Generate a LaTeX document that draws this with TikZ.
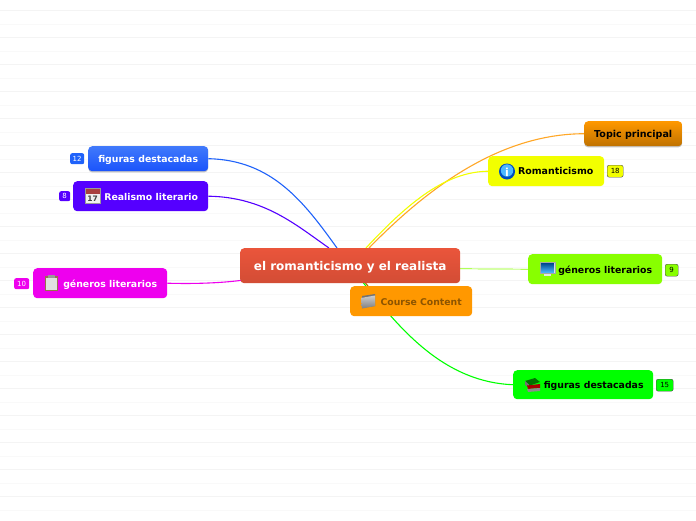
\documentclass[tikz,border=0pt]{standalone}
\usepackage{fontspec}
\setmainfont{DejaVu Sans}
\usetikzlibrary{calc,shadows}
\pgfdeclarelayer{under}
\pgfsetlayers{under,main}
\definecolor{cred}{HTML}{EA553B}
\definecolor{cblue}{HTML}{1F62FA}
\definecolor{cviolet}{HTML}{5500FF}
\definecolor{cmag}{HTML}{EE00EE}
\definecolor{corange}{HTML}{FF9800}
\definecolor{cyel}{HTML}{F2FF00}
\definecolor{clime}{HTML}{88FF00}
\definecolor{cgreen}{HTML}{00FF00}
\newcommand{\lowered}[2]{\raisebox{-#1}[\height][\depth]{#2}}
\tikzset{
 x=1pt,y=-1pt,
 topic/.style={rounded corners=4pt,inner sep=0pt,font=\bfseries\fontsize{9.35}{11}\selectfont,anchor=north west},
 badge/.style={rounded corners=2pt,inner sep=0pt,font=\fontsize{7}{8}\selectfont,anchor=north west},
 link/.style={line width=1.1pt},
 grid a/.style={draw=black!4.5,line width=0.8pt},
 grid b/.style={draw=black!2.5,line width=0.8pt},
 soft/.style={drop shadow={shadow xshift=0pt,shadow yshift=-1.2pt,opacity=.45}},
}
\newcommand{\tnode}[8]{% name, x, y, w, h, fill opts, text colour, text
 \node[topic,#6,text=#7,minimum width=#4pt,minimum height=#5pt,text depth=0pt] (#1) at (#2,#3) {#8};}
\begin{document}
\begin{tikzpicture}
\useasboundingbox (0,0) rectangle (696,520);

\tnode{figL}{88}{146}{120}{25}{top color=cblue!85!white,bottom color=cblue!85!blue,soft}{white}{figuras destacadas}
\tnode{reaL}{73}{181}{135}{30}{fill=cviolet}{white}{\hspace*{21pt}\lowered{.4pt}{Realismo literario}}
\tnode{genL}{33}{268}{134}{30}{fill=cmag}{white}{\hspace*{20pt}\lowered{.7pt}{géneros literarios}}
\node[topic,top color=cred,bottom color=cred!90!black,text=white,minimum width=220pt,minimum height=35pt,font=\bfseries\fontsize{12}{14}\selectfont] (cen) at (240,248) {\lowered{1.6pt}{el romanticismo y el realista}};
\tnode{cou}{350}{286}{122}{30}{fill=corange}{corange!55!black}{\hspace*{20pt}\fontsize{9.3}{11}\selectfont\lowered{.6pt}{Course Content}}
\tnode{top}{584}{121}{98}{25}{top color=corange,bottom color=corange!75!black,soft}{black}{\fontsize{9.55}{11}\selectfont Topic principal}
\tnode{rom}{488}{156}{116}{30}{fill=cyel}{black}{\hspace*{19pt}\fontsize{9.45}{11}\selectfont Romanticismo}
\tnode{genR}{528}{254}{134}{30}{fill=clime}{black}{\hspace*{20pt}\lowered{.5pt}{géneros literarios}}
\tnode{figR}{513}{370}{140}{29}{fill=cgreen}{black}{\hspace*{21pt}figuras destacadas}

\begin{pgfonlayer}{under}
\fill[white] (0,0) rectangle (696,520);
\foreach \i in {0,2,...,37}{\draw[grid a] (0,10.5+13.5*\i) -- (696,10.5+13.5*\i);}
\foreach \i in {1,3,...,37}{\draw[grid b] (0,10.5+13.5*\i) -- (696,10.5+13.5*\i);}
\draw[link,draw=cblue] (figL.east) .. controls (272,160) and (304,202) .. ($(cen.north west)+(97,0)$);
\draw[link,draw=cviolet] (reaL.east) .. controls (264,197) and (296,225) .. ($(cen.north west)+(89,0)$);
\draw[link,draw=cmag] (genL.east) .. controls (195,284) and (220,283) .. ($(cen.south west)+(1,-3)$);
\draw[link,draw=corange!85!white] (top.west) .. controls (510,134) and (440,175) .. ($(cen.north west)+(129,0)$);
\draw[link,draw=cyel] (rom.west) .. controls (450,172) and (415,195) .. ($(cen.north west)+(126,0)$);
\draw[draw=clime,line width=0.7pt] (cen.east) ++(-1,3) .. controls (480,269) and (505,269) .. (genR.west);
\draw[link,draw=cgreen] ($(cen.south west)+(123,-1)$) .. controls (395,322) and (440,382) .. (figR.west);
\draw[link,draw=corange!70!black] ($(cen.south west)+(125,-1)$) -- ($(cou.north west)+(18,0)$);
\end{pgfonlayer}

% badges
\node[badge,fill=cblue,text=white,minimum width=14pt,minimum height=11pt] (b12) at (70,153) {12};
\node[badge,fill=cviolet,text=white,minimum width=11pt,minimum height=10pt] (b8) at (59,191) {8};
\node[badge,fill=cmag,text=white,minimum width=15pt,minimum height=11pt] (b10) at (14,278) {10};
\node[badge,fill=cyel,draw=black!70,text=black,minimum width=16pt,minimum height=12pt] (b18) at (607,165) {18};
\node[badge,fill=clime,draw=black!70,text=black,minimum width=13pt,minimum height=12pt] (b9) at (665,264) {9};
\node[badge,fill=cgreen,draw=black!70,text=black,minimum width=17pt,minimum height=12pt] (b15) at (656,379) {15};

% calendar
\fill[black!6] (85,188) rectangle (100,203.5);
\fill[red!55!black!75] (85,188) rectangle (100,194);
\draw[black!40,line width=0.4pt] (85,188) rectangle (100,203.5);
\node[inner sep=0pt,font=\bfseries\fontsize{7.5}{7.5}\selectfont,text=black!75] (cal) at (92.5,199) {17};
% clipboard
\fill[brown!70!black!85] (44.5,276) rectangle (58,291);
\fill[black!12] (46,277.5) rectangle (56.5,289.5);
\fill[black!40] (48,275) rectangle (54.5,278);
% folder
\fill[black!55] (362,296) -- (375,294) -- (375,306) -- (362,308) -- cycle;
\shade[top color=black!20,bottom color=black!50] (361,298) -- (375,295.5) -- (375,306) -- (362,308.5) -- cycle;
% info
\fill[blue!60!cyan!75!black] (507,171.5) circle (8);
\fill[blue!40!cyan!70!white] (507,170.5) circle (6.2);
\node[inner sep=0pt,font=\bfseries\fontsize{11}{11}\selectfont,text=white] (inf) at (507,172) {i};
% monitor
\fill[black!7] (540,262) rectangle (555,273.5);
\draw[black!35,line width=0.3pt] (540,262) rectangle (555,273.5);
\shade[top color=blue!50!cyan!55!black,bottom color=cyan!60!blue!70] (541,263) rectangle (554,272.5);
\fill[black!10] (544,273.5) rectangle (551,275.5);
% books
\fill[green!45!black] (525,381) -- (535,378) -- (540,382) -- (530,385.5) -- cycle;
\fill[black!55] (525,381) -- (530,385.5) -- (530,388) -- (525,385) -- cycle;
\fill[red!65!black] (527,385.5) -- (540,384) -- (540,388) -- (528,389) -- cycle;
\fill[black!45] (527,389) -- (540,388) -- (540,391) -- (528,392) -- cycle;
\end{tikzpicture}
\end{document}
